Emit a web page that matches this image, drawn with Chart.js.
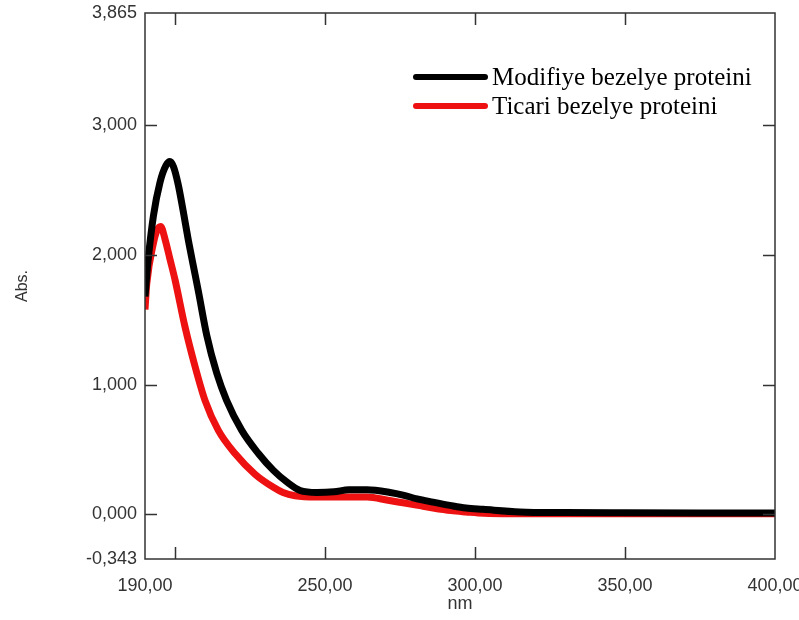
<!DOCTYPE html>
<html>
<head>
    <title>Abs. spektrumu</title>
    <script src="https://cdn.jsdelivr.net/npm/chart.js"></script>
    <style>
        body {
            margin: 0;
            background: #fff;
        }
        .container {
            width: 799px;
            height: 620px;
        }
    </style>
</head>
<body>
    <div class="container">
        <canvas id="myChart" width="799" height="620"></canvas>
    </div>

    <script>
        // Modifiye bezelye proteini (black)
        const modNm  = [190, 191, 192.8, 195, 197, 198.3, 199.5, 201, 202.8, 204.4, 206, 207.8, 210.6, 213.9, 217.2, 222.2, 227.8, 232.8, 237.3, 241.7, 247.3, 253, 258, 264, 271.7, 276, 280.7, 286, 291.7, 297, 302.7, 315, 330, 350, 375, 400];
        const modAbs = [1.68, 1.95, 2.30, 2.56, 2.69, 2.72, 2.68, 2.55, 2.33, 2.12, 1.93, 1.72, 1.38, 1.09, 0.88, 0.65, 0.47, 0.34, 0.25, 0.185, 0.17, 0.175, 0.19, 0.19, 0.17, 0.15, 0.12, 0.095, 0.07, 0.05, 0.04, 0.02, 0.015, 0.013, 0.012, 0.012];

        // Ticari bezelye proteini (red)
        const ticNm  = [190, 190.6, 192.8, 194, 195.2, 196.7, 198.3, 200, 203.3, 206.7, 210, 214.4, 220, 226.7, 232.8, 236, 240, 247, 255, 264, 271, 276, 281, 286, 292, 297, 303, 315, 330, 350, 375, 400];
        const ticAbs = [1.58, 1.78, 2.09, 2.19, 2.22, 2.12, 1.97, 1.81, 1.45, 1.14, 0.88, 0.65, 0.47, 0.31, 0.21, 0.17, 0.145, 0.135, 0.135, 0.135, 0.11, 0.09, 0.07, 0.05, 0.03, 0.02, 0.01, 0.006, 0.005, 0.005, 0.005, 0.005];

        const seriesLabels = ['Modifiye bezelye proteini', 'Ticari bezelye proteini'];
        const seriesColors = ['#000000', '#ee1111'];

        const xTickLabels = [190, 250, 300, 350, 400];
        const yTickLabels = [-0.343, 0, 1, 2, 3, 3.865];
        const xTickMarks = [200, 250, 300, 350];
        const yTickMarks = [0, 1, 2, 3];

        function zip(xs, ys) {
            return xs.map((x, i) => ({ x: x, y: ys[i] }));
        }

        // frame + inward tick marks + legend
        const framePlugin = {
            id: 'frame',
            afterDraw(chart) {
                const ctx = chart.ctx;
                const a = chart.chartArea;
                const xs = chart.scales.x;
                const ys = chart.scales.y;
                ctx.save();
                ctx.strokeStyle = '#333';
                ctx.lineWidth = 1.5;
                ctx.strokeRect(a.left, a.top, a.right - a.left, a.bottom - a.top);
                ctx.beginPath();
                xTickMarks.forEach(v => {
                    const px = Math.round(xs.getPixelForValue(v)) + 0.5;
                    ctx.moveTo(px, a.bottom); ctx.lineTo(px, a.bottom - 12);
                    ctx.moveTo(px, a.top); ctx.lineTo(px, a.top + 12);
                });
                yTickMarks.forEach(v => {
                    const py = Math.round(ys.getPixelForValue(v)) + 0.5;
                    ctx.moveTo(a.left, py); ctx.lineTo(a.left + 12, py);
                    ctx.moveTo(a.right, py); ctx.lineTo(a.right - 12, py);
                });
                ctx.stroke();

                // legend
                ctx.font = '25px "Liberation Serif", "Times New Roman", serif';
                ctx.textBaseline = 'alphabetic';
                ctx.fillStyle = '#000';
                const rows = [77, 106];
                seriesLabels.forEach((lab, i) => {
                    ctx.strokeStyle = seriesColors[i];
                    ctx.lineWidth = 6;
                    ctx.lineCap = 'round';
                    ctx.beginPath();
                    ctx.moveTo(416, rows[i]);
                    ctx.lineTo(485, rows[i]);
                    ctx.stroke();
                    ctx.fillText(lab, 492, rows[i] + 8);
                });
                ctx.restore();
            }
        };

        const tickFont = { family: '"Liberation Sans", Arial, sans-serif', size: 18 };

        const ctx = document.getElementById('myChart').getContext('2d');
        new Chart(ctx, {
            type: 'line',
            data: {
                datasets: [
                    {
                        label: seriesLabels[0],
                        data: zip(modNm, modAbs),
                        borderColor: seriesColors[0],
                        borderWidth: 7,
                        pointRadius: 0,
                        cubicInterpolationMode: 'monotone',
                        fill: false
                    },
                    {
                        label: seriesLabels[1],
                        data: zip(ticNm, ticAbs),
                        borderColor: seriesColors[1],
                        borderWidth: 7,
                        pointRadius: 0,
                        cubicInterpolationMode: 'monotone',
                        fill: false
                    }
                ]
            },
            options: {
                responsive: false,
                animation: false,
                layout: { padding: { top: 13, right: 24, bottom: 0, left: 0 } },
                plugins: {
                    legend: { display: false },
                    tooltip: { enabled: false }
                },
                scales: {
                    x: {
                        type: 'linear',
                        min: 190,
                        max: 400,
                        grid: { display: false },
                        border: { display: false },
                        afterBuildTicks: (scale) => {
                            scale.ticks = xTickLabels.map(v => ({ value: v }));
                        },
                        afterFit: (scale) => {
                            scale.height = 61;
                            scale.paddingLeft = 0;
                            scale.paddingRight = 0;
                        },
                        ticks: {
                            font: tickFont,
                            color: '#333',
                            padding: 8,
                            maxRotation: 0,
                            callback: (v) => v.toFixed(2).replace('.', ',')
                        },
                        title: {
                            display: true,
                            text: 'nm',
                            font: tickFont,
                            color: '#333',
                            padding: { top: 0, bottom: 5 }
                        }
                    },
                    y: {
                        type: 'linear',
                        min: -0.343,
                        max: 3.865,
                        grid: { display: false },
                        border: { display: false },
                        afterBuildTicks: (scale) => {
                            scale.ticks = yTickLabels.map(v => ({ value: v }));
                        },
                        afterFit: (scale) => {
                            scale.width = 145;
                            scale.paddingTop = 0;
                            scale.paddingBottom = 0;
                        },
                        ticks: {
                            font: tickFont,
                            color: '#333',
                            padding: 0,
                            callback: (v) => v.toFixed(3).replace('.', ',')
                        },
                        title: {
                            display: true,
                            text: 'Abs.',
                            font: { family: '"Liberation Sans", Arial, sans-serif', size: 16 },
                            color: '#333',
                            padding: { top: 13, bottom: 0 }
                        }
                    }
                }
            },
            plugins: [framePlugin]
        });
    </script>
</body>
</html>
